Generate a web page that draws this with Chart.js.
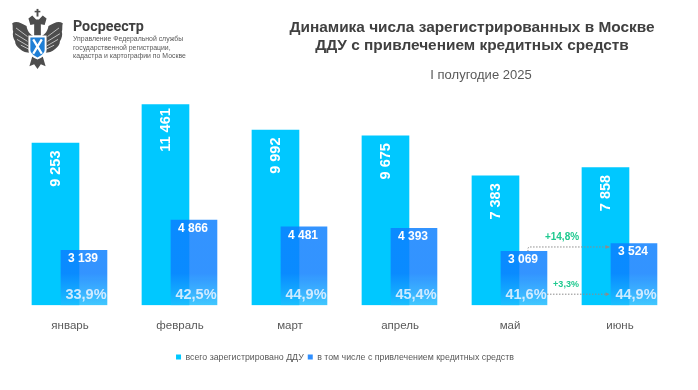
<!DOCTYPE html>
<html lang="ru"><head><meta charset="utf-8">
<style>
html,body{margin:0;padding:0;background:#fff;width:698px;height:390px;overflow:hidden;font-family:"Liberation Sans",Arial,sans-serif}
#wrap{position:relative;width:698px;height:390px}
canvas{position:absolute;left:0;top:0}
.t{position:absolute;white-space:nowrap;transform:translate(-50%,-50%);color:#404040}
.l{position:absolute;white-space:nowrap;color:#595959;font-size:6.9px;line-height:9px;left:73px}
svg{position:absolute;left:5px;top:7px}
</style></head><body>
<div id="wrap">
<canvas id="c" width="698" height="390"></canvas>
<svg width="65" height="62" viewBox="0 0 65 65">
 <g fill="#4d4d4d">
  <path d="M34 32 C26 32 22 26 21 20 C15 17 11 14 6 17 C7 20 6 23 7 26 C6 29 7 33 9 36 C9 39 11 42 14 44 C17 47 21 48 25 48 L27 40 Z"/>
  <path d="M31 32 C39 32 43 26 44 20 C50 17 54 14 59 17 C58 20 59 23 58 26 C59 29 58 33 56 36 C56 39 54 42 51 44 C48 47 44 48 40 48 L38 40 Z"/>
  <path d="M27 52 L38 52 L41 62 L36 60 L32.5 65 L29 60 L24 62 Z"/>
  <path d="M23 12 L27 9 L31 13 L34 13 L38 9 L42 12 L40 19 L36 18 L36 30 L29 30 L29 18 L25 19 Z"/>
  <rect x="31.5" y="2" width="2" height="8"/>
  <rect x="29.5" y="4" width="6" height="1.6"/>
 </g>
 <g stroke="#fff" stroke-width=".8" fill="none" opacity=".85">
  <path d="M10 22 L22 31M9 28 L22 36M11 34 L23 41M15 40 L25 45"/>
  <path d="M55 22 L43 31M56 28 L43 36M54 34 L42 41M50 40 L40 45"/>
 </g>
 <path d="M23 30 H42 V45 C42 50 37 53 32.5 55 C28 53 23 50 23 45 Z" fill="#fff"/>
 <path d="M25 32 H40 V45 C40 48 36 51 32.5 53 C29 51 25 48 25 45 Z" fill="#1f7fd6"/>
 <path d="M28 34 L37 49 M37 34 L28 49" stroke="#fff" stroke-width="2.4"/>
</svg>
<div class="l" style="top:16px;font-size:14.3px;line-height:20px;font-weight:700;color:#404040;font-family:Roboto,'Liberation Sans',sans-serif">Росреестр</div>
<div class="l" style="top:34px">Управление Федеральной службы</div>
<div class="l" style="top:43px">государственной регистрации,</div>
<div class="l" style="top:51px">кадастра и картографии по Москве</div>
<div class="t" style="left:472px;top:27px;font-size:15.4px;font-weight:700">Динамика числа зарегистрированных в Москве</div>
<div class="t" style="left:472px;top:45px;font-size:15.4px;font-weight:700">ДДУ с привлечением кредитных средств</div>
<div class="t" style="left:481px;top:74px;font-size:13px;color:#595959">I полугодие 2025</div>
</div>
<script src="https://cdn.jsdelivr.net/npm/chart.js@4"></script>
<script>
const categories = ["январь","февраль","март","апрель","май","июнь"];
const totalDdu = [9253,11461,9992,9675,7383,7858];
const creditDdu = [3139,4866,4481,4393,3069,3524];
const creditShare = ["33,9%","42,5%","44,9%","45,4%","41,6%","44,9%"];
const seriesNames = ["всего зарегистрировано ДДУ","в том числе с привлечением кредитных средств"];
const deltaCount = "+14,8%";
const deltaShare = "+3,3%";
const fmt = v => String(v).replace(/\B(?=(\d{3})+$)/g," ");

function creditFill(ctx){
  const {chart}=ctx, a=chart.chartArea;
  if(!a) return "rgba(12,127,255,.84)";
  const g=chart.ctx.createLinearGradient(0,a.bottom-32,0,a.bottom);
  g.addColorStop(0,"rgba(12,127,255,.84)");
  g.addColorStop(1,"rgba(30,190,255,.85)");
  return g;
}
const labelsPlugin={id:"labels",afterDatasetsDraw(chart){
  const c=chart.ctx, m0=chart.getDatasetMeta(0), m1=chart.getDatasetMeta(1), y=chart.scales.y;
  c.save(); c.textAlign="center"; c.textBaseline="middle";
  categories.forEach((_,i)=>{
    const b0=m0.data[i], b1=m1.data[i];
    c.save(); c.translate(b0.x+1,b0.y+25.5); c.rotate(-Math.PI/2);
    c.fillStyle="#fff"; c.font="700 14.5px 'Liberation Sans'"; c.fillText(fmt(totalDdu[i]),0,0); c.restore();
    c.fillStyle="#fff"; c.font="700 12px 'Liberation Sans'"; c.fillText(fmt(creditDdu[i]),b1.x-1,b1.y+8.5);
    c.fillStyle="rgba(235,245,255,.85)"; c.font="700 14.5px 'Liberation Sans'"; c.fillText(creditShare[i],b1.x+2,y.bottom-10);
  });
  const may=m1.data[4], jun=m1.data[5], x1=jun.x-jun.width/2-1.5;
  const arrow=(pts)=>{
    c.strokeStyle="#8c8c8c"; c.lineWidth=1; c.setLineDash([1.5,1.5]); c.beginPath();
    pts.forEach((p,k)=>k?c.lineTo(p[0],p[1]):c.moveTo(p[0],p[1])); c.stroke(); c.setLineDash([]);
    const e=pts[pts.length-1]; c.fillStyle="#8c8c8c"; c.beginPath();
    c.moveTo(e[0],e[1]); c.lineTo(e[0]-4,e[1]-2); c.lineTo(e[0]-4,e[1]+2); c.closePath(); c.fill();
  };
  const yTop=jun.y+3.5, yBot=y.bottom-11;
  arrow([[may.x+4,may.y],[may.x+4,yTop+1],[may.x+5,yTop],[x1,yTop]]);
  arrow([[may.x+may.width/2,yBot],[x1,yBot]]);
  c.fillStyle="#1fc98f"; c.font="700 10px 'Liberation Sans'"; c.fillText(deltaCount,562,yTop-9.5);
  c.font="700 9px 'Liberation Sans'"; c.fillText(deltaShare,566,yBot-10);
  c.restore();
}};
new Chart(document.getElementById("c"),{
  type:"bar",
  data:{datasets:[
    {label:seriesNames[0],data:categories.map((_,i)=>({x:i-0.132,y:totalDdu[i]})),backgroundColor:"#00c8ff",order:2,grouped:false,barThickness:47,borderWidth:0},
    {label:seriesNames[1],data:categories.map((_,i)=>({x:i+0.127,y:creditDdu[i]})),backgroundColor:creditFill,order:1,grouped:false,barThickness:46,borderWidth:0}
  ]},
  options:{
    responsive:false,animation:false,
    layout:{padding:{left:15,right:23,top:60,bottom:18.5}},
    scales:{
      x:{type:"linear",offset:false,min:-0.5,max:5.5,grid:{display:false},border:{display:false},
         afterBuildTicks(s){s.ticks=categories.map((_,i)=>({value:i}));},
         afterFit(s){s.height=43.5;},
         ticks:{autoSkip:false,maxRotation:0,padding:6,color:"#595959",font:{family:"Liberation Sans",size:11.5},
                callback:v=>categories[v]}},
      y:{display:false,min:0,max:14000}
    },
    plugins:{
      tooltip:{enabled:false},
      legend:{position:"bottom",labels:{boxWidth:5,boxHeight:5,padding:4,color:"#595959",font:{family:"Liberation Sans",size:8.8},
        sort:(a,b)=>a.datasetIndex-b.datasetIndex,
        generateLabels(ch){
          const items=Chart.defaults.plugins.legend.labels.generateLabels(ch);
          items.forEach(it=>{it.fillStyle=it.datasetIndex===0?"#00c8ff":"#2f8fff";});
          return items;
        }}}
    }
  },
  plugins:[labelsPlugin]
});
</script>
</body></html>
